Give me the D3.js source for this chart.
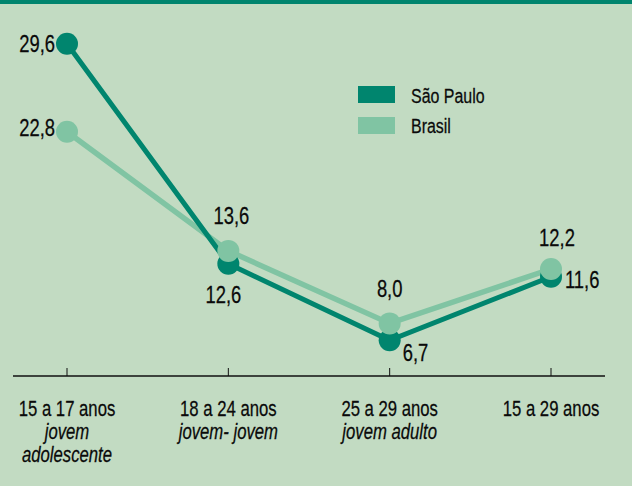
<!DOCTYPE html>
<html><head><meta charset="utf-8">
<script src="https://cdn.jsdelivr.net/npm/d3@7"></script>
<style>
html,body{margin:0;padding:0;background:#c2dbc2;}
svg{display:block;font-family:"Liberation Sans",Arial,sans-serif;}
</style></head><body>
<svg id="c" width="632" height="486"></svg>
<script>
const categories = ["15 a 17 anos", "18 a 24 anos", "25 a 29 anos", "15 a 29 anos"];
const subLabels = [["jovem", "adolescente"], ["jovem- jovem"], ["jovem adulto"], []];
const saoPaulo = [29.6, 12.6, 6.7, 11.6];
const brasil = [22.8, 13.6, 8.0, 12.2];
const seriesNames = ["São Paulo", "Brasil"];
const colors = ["#00856e", "#80c4a3"];

const svg = d3.select("#c");
const W = 632, H = 486;
svg.append("rect").attr("width", W).attr("height", H).attr("fill", "#c2dbc2");
svg.append("rect").attr("width", W).attr("height", 4).attr("fill", "#00856e");

const x = d3.scalePoint().domain(categories).range([67, 551]);
const y = d3.scaleLinear().domain([0, 30]).range([427, 38.5]);

function txt(g, tx, ty, s, opts) {
  const o = Object.assign({size: 22, sx: 0.76, anchor: "start", italic: false}, opts || {});
  return g.append("text")
    .attr("transform", `translate(${tx},${ty}) scale(${o.sx},1)`)
    .attr("text-anchor", o.anchor)
    .attr("font-size", o.size)
    .attr("font-style", o.italic ? "italic" : "normal")
    .attr("fill", "#0a0a0a")
    .attr("stroke", "#0a0a0a").attr("stroke-width", 0.25)
    .text(s);
}

// axis
const axisY = 376;
const ag = svg.append("g").attr("transform", `translate(0,${axisY})`);
ag.append("line").attr("x1", 13).attr("x2", 605).attr("stroke", "#111").attr("stroke-width", 1.3);
ag.selectAll(".tk").data(categories).join("line")
  .attr("x1", d => x(d)).attr("x2", d => x(d)).attr("y1", 0).attr("y2", -8)
  .attr("stroke", "#111").attr("stroke-width", 1);

const lab = svg.append("g");
categories.forEach((c, i) => {
  txt(lab, x(c), 416, c, {anchor: "middle"});
  subLabels[i].forEach((s, j) => {
    txt(lab, x(c), 439 + j * 23, s, {anchor: "middle", italic: true});
  });
});

const line = d3.line().x((d, i) => x(categories[i])).y(d => y(d));
svg.append("path").datum(brasil).attr("d", line).attr("fill", "none")
  .attr("stroke", colors[1]).attr("stroke-width", 5.5);
svg.append("path").datum(saoPaulo).attr("d", line).attr("fill", "none")
  .attr("stroke", colors[0]).attr("stroke-width", 5);
svg.append("g").selectAll("circle").data(saoPaulo).join("circle")
  .attr("cx", (d, i) => x(categories[i])).attr("cy", d => y(d)).attr("r", 11).attr("fill", colors[0]);
svg.append("g").selectAll("circle").data(brasil).join("circle")
  .attr("cx", (d, i) => x(categories[i])).attr("cy", d => y(d)).attr("r", 11).attr("fill", colors[1]);

const fmt = v => v.toFixed(1).replace(".", ",");
// label placements: [dx, dy, anchor]
const spPos = [[-12, 8, "end"], [-5, 39, "middle"], [13, 21, "start"], [14, 11, "start"]];
const brPos = [[-12, 4, "end"], [3, -27, "middle"], [0, -26, "middle"], [6, -23, "middle"]];
const vg = svg.append("g");
[[saoPaulo, spPos], [brasil, brPos]].forEach(([vals, pos]) => {
  vals.forEach((d, i) => {
    txt(vg, x(categories[i]) + pos[i][0], y(d) + pos[i][1], fmt(d), {anchor: pos[i][2], size: 23, sx: 0.8});
  });
});

// legend
const lg = svg.append("g");
seriesNames.forEach((n, i) => {
  lg.append("rect").attr("x", 358).attr("y", 86 + i * 31).attr("width", 37).attr("height", 17).attr("fill", colors[i]);
  txt(lg, 411, 103 + i * 30, n, {size: 21, sx: 0.76});
});
</script></body></html>
